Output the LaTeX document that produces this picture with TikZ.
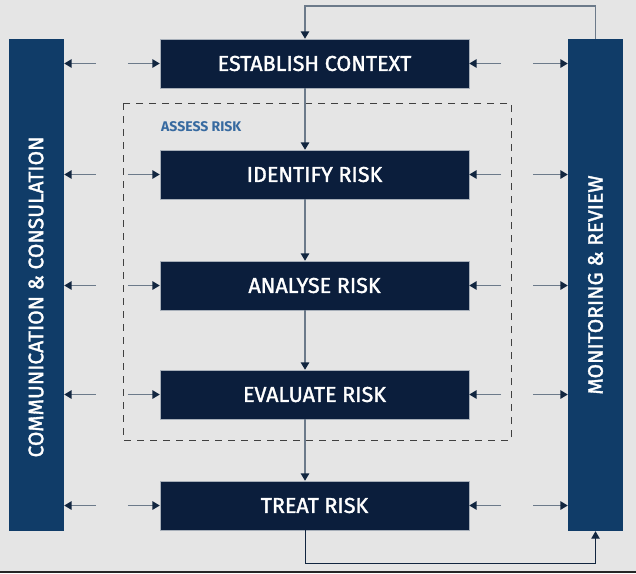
\documentclass[tikz,border=0pt]{standalone}
\usepackage{fontspec}
\setmainfont{Fira Sans}
\newfontfamily\medfont{Fira Sans}[FakeBold=1.6]
\usetikzlibrary{arrows.meta}

\definecolor{bgrey}{RGB}{229,229,229}
\definecolor{barblue}{RGB}{16,60,104}
\definecolor{boxnavy}{RGB}{11,30,60}
\definecolor{lgrey}{RGB}{108,122,138}
\definecolor{tipnavy}{RGB}{18,38,64}
\definecolor{labblue}{RGB}{55,106,160}

\tikzset{
  stage/.style={fill=boxnavy, draw=lgrey!60, line width=0.4pt, minimum width=309pt,
    minimum height=49pt, text=white, font=\medfont\fontsize{21.5}{23}\selectfont, inner sep=0pt},
  bar/.style={fill=barblue, minimum width=55pt, minimum height=492pt, inner sep=0pt},
  bartext/.style={rotate=90, text=white, font=\medfont\fontsize{21}{23}\selectfont},
  arr/.style={draw=lgrey, line width=1.5pt,
    -{Triangle[length=7.5pt, width=8.5pt, color=tipnavy]}},
}

\begin{document}
\begin{tikzpicture}[x=1pt, y=-1pt]
  \fill[bgrey] (0,0) rectangle (636,573);
  \useasboundingbox (0,0) rectangle (636,573);
  \fill[black!85] (0,571) rectangle (636,573);

  % side bars
  \node[bar] (comm) at (36.5,285) {};
  \node[bar] (mon) at (595.5,285) {};
  \node[bartext] (commtext) at (36,297) {COMMUNICATION \& CONSULATION};
  \node[bartext] (montext) at (mon) {MONITORING \& REVIEW};

  % assess risk group
  \draw[draw=black!75, dash pattern=on 7pt off 6pt, line width=0.9pt] (123,103) rectangle (511,440);
  \node[anchor=west, inner sep=0pt, text=labblue, font=\bfseries\fontsize{14}{16}\selectfont] (assess) at (161,127) {ASSESS RISK};

  % stages
  \node[stage] (est) at (314.5,63.5) {ESTABLISH CONTEXT};
  \node[stage] (ident) at (314.5,174.5) {IDENTIFY RISK};
  \node[stage] (anal) at (314.5,285.5) {ANALYSE RISK};
  \node[stage] (eval) at (314.5,394.5) {EVALUATE RISK};
  \node[stage] (treat) at (314.5,505.5) {TREAT RISK};

  \coordinate (spine) at (305,0);
  \coordinate (top) at (305,6);
  \coordinate (bot) at (305,563);

  % main flow
  \draw[arr] (est.south -| spine) -- (ident.north -| spine);
  \draw[arr] (ident.south -| spine) -- (anal.north -| spine);
  \draw[arr] (anal.south -| spine) -- (eval.north -| spine);
  \draw[arr] (eval.south -| spine) -- (treat.north -| spine);

  % feedback
  \draw[arr] (mon.north) |- (top) -- (est.north -| top);
  \draw[arr, draw=tipnavy, line width=1pt] (treat.south -| bot) -- (bot) -| (mon.south);

  % side arrows
  \foreach \s in {est,ident,anal,eval,treat} {
    \draw[arr] ([xshift=-64pt]\s.west) -- (\s.west -| comm.east);
    \draw[arr] ([xshift=-32pt]\s.west) -- (\s.west);
    \draw[arr] ([xshift=32pt]\s.east) -- (\s.east);
    \draw[arr] ([xshift=64pt]\s.east) -- (\s.east -| mon.west);
  }
\end{tikzpicture}
\end{document}
